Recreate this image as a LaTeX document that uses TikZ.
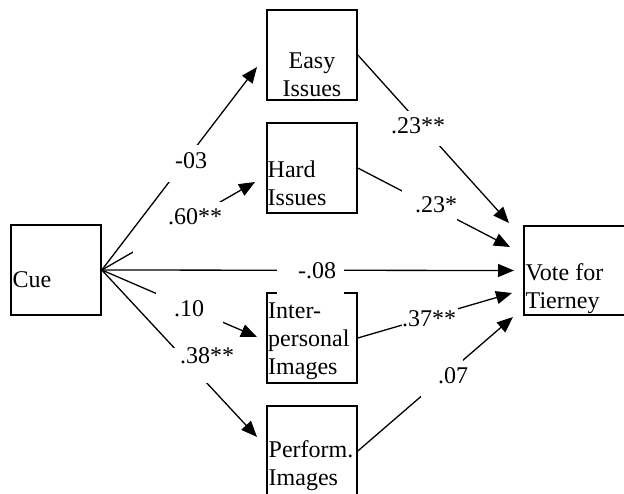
\documentclass[tikz,border=0pt]{standalone}
\usepackage{fontspec}
\setmainfont{Liberation Serif}
\usetikzlibrary{arrows.meta}
\begin{document}
\begin{tikzpicture}[x=1pt,y=-1pt,
  font=\fontsize{24}{28}\selectfont,
  box/.style={draw, line width=1.6pt, minimum width=90pt, minimum height=90pt, inner sep=0pt},
  txt/.style={inner sep=0pt, anchor=base west},
  conn/.style={line width=1.3pt, -{Triangle[length=16pt,width=13pt]}},
  lab/.style={fill=white, inner sep=0pt, anchor=base west}]
\useasboundingbox (0,0) rectangle (624,493);

% boxes
\node[box] (cue) at (56,270) {};
\node[box] (easy) at (312,55) {};
\node[box] (hard) at (312,168) {};
\node[box] (inter) at (312,338) {};
\node[box] (perf) at (312,451) {};
\node[box, minimum width=110pt, minimum height=89pt] (vote) at (579,270.5) {};

% box texts
\node[txt] (cuet) at (12.5,287) {Cue};
\node[inner sep=0pt, anchor=base] (easyt) at (312,68) {\begin{tabular}[t]{@{}c@{}}Easy\\Issues\end{tabular}};
\node[txt] (hardt) at (267.5,177) {\begin{tabular}[t]{@{}l@{}}Hard\\Issues\end{tabular}};
\node[txt] (intert) at (268,318) {\begin{tabular}[t]{@{}l@{}}Inter-\\personal\\Images\end{tabular}};
\node[txt] (perft) at (268.5,457) {\begin{tabular}[t]{@{}l@{}}Perform.\\Images\end{tabular}};
\node[txt] (votet) at (525.5,280) {\begin{tabular}[t]{@{}l@{}}Vote for\\Tierney\end{tabular}};

% arrow tips
\coordinate (tE) at (257,67);
\coordinate (tH) at (255,182);
\coordinate (tI) at (257,337);
\coordinate (tP) at (257,437);
\coordinate (v1) at (509,223);
\coordinate (v2) at (510,247);
\coordinate (v3) at (514,270.5);
\coordinate (v4) at (512,293);
\coordinate (v5) at (513,317);

% Cue -> Hard
\draw[conn] (cue.east) -- (tH);
\node[lab, text height=22pt, text depth=30pt] (l2) at (133,224) {\makebox[102pt][l]{\hspace*{35pt}.60**}};
% Cue -> Easy
\draw[conn] (cue.east) -- (tE);
\node[lab, text height=23pt, text depth=14pt] (l1) at (165,168) {\makebox[45pt][l]{\hspace*{10pt}-03}};
% Cue -> Inter
\draw[conn] (cue.east) -- (tI);
\node[lab, text height=26pt, text depth=10pt] (l4) at (156,316) {\makebox[67pt][l]{\hspace*{18pt}.10}};
% Cue -> Perform
\draw[conn] (cue.east) -- (tP);
\node[lab, text height=15pt, text depth=20pt] (l5) at (170,363) {\makebox[70pt][l]{\hspace*{10pt}.38**}};
% Cue -> Vote
\draw[conn] (cue.east) -- (v3);
\node[lab, text height=28pt, text depth=16.5pt] (l3) at (277,278) {\makebox[67pt][l]{\hspace*{21pt}-.08}};

% mediators -> Vote
\draw[conn] (easy.east) -- (v1);
\node[lab, text height=22pt, text depth=13pt] (l6) at (385,133) {\makebox[67pt][l]{\hspace*{6pt}.23**}};
\draw[conn] (hard.east) -- (v2);
\node[lab, text height=22pt, text depth=10pt] (l7) at (402,212) {\makebox[55pt][l]{\hspace*{13pt}.23*}};
\draw[conn] (inter.east) -- (v4);
\node[lab, text height=21pt, text depth=4pt] (l8) at (402,326) {\makebox[56pt][l]{.37**}};
\draw[conn] (perf.east) -- (v5);
\node[lab, text height=25pt, text depth=14pt] (l9) at (421,383) {\makebox[42pt][l]{\hspace*{17pt}.07}};
\end{tikzpicture}
\end{document}
